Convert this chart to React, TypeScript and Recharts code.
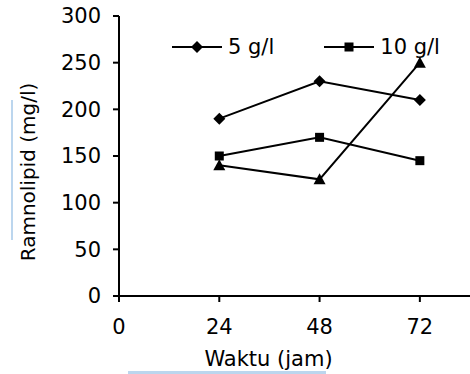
import React from 'react';
import { LineChart, Line, XAxis, YAxis } from 'recharts';

const hours = [24, 48, 72];
const conc5 = [190, 230, 210];
const conc10 = [150, 170, 145];
const conc15 = [140, 125, 250];
const xTicks = [0, 24, 48, 72];
const yTicks = [0, 50, 100, 150, 200, 250, 300];

const data = hours.map((h, i) => ({ jam: h, c5: conc5[i], c10: conc10[i], c15: conc15[i] }));

const FONT = '"DejaVu Sans", Verdana, sans-serif';

const Diamond = (props: any) => {
  const { cx, cy } = props;
  if (cx == null || cy == null) return null;
  return <path d={`M${cx},${cy - 6}L${cx + 6},${cy}L${cx},${cy + 6}L${cx - 6},${cy}Z`} fill="#000" />;
};

const Square = (props: any) => {
  const { cx, cy } = props;
  if (cx == null || cy == null) return null;
  return <rect x={cx - 4.5} y={cy - 4.5} width={9} height={9} fill="#000" />;
};

const Triangle = (props: any) => {
  const { cx, cy } = props;
  if (cx == null || cy == null) return null;
  return <path d={`M${cx},${cy - 6}L${cx + 6},${cy + 5}L${cx - 6},${cy + 5}Z`} fill="#000" />;
};

// legend drawn by hand: the third series has no entry in the original
const LegendBox = () => (
  <div
    style={{
      position: 'absolute', left: 172, top: 34, display: 'flex', alignItems: 'center',
      fontFamily: FONT, fontSize: 21, lineHeight: '26px', color: '#000',
    }}
  >
    <svg width={50} height={14}>
      <line x1={0} y1={7} x2={50} y2={7} stroke="#000" strokeWidth={2} />
      <path d="M25,1L31,7L25,13L19,7Z" fill="#000" />
    </svg>
    <span style={{ marginLeft: 6, marginRight: 50 }}>5 g/l</span>
    <svg width={50} height={14}>
      <line x1={0} y1={7} x2={50} y2={7} stroke="#000" strokeWidth={2} />
      <rect x={20.5} y={2.5} width={9} height={9} fill="#000" />
    </svg>
    <span style={{ marginLeft: 6 }}>10 g/l</span>
  </div>
);

export default function App() {
  return (
    <div style={{ position: 'relative', width: 470, height: 374, background: '#fff' }}>
      <style>{'body{margin:0}'}</style>
      <LineChart width={470} height={374} data={data} margin={{ top: 16, right: 0, left: 0, bottom: 0 }}>
        <XAxis
          dataKey="jam"
          type="number"
          domain={[0, 84]}
          ticks={xTicks}
          axisLine={{ stroke: '#000', strokeWidth: 2 }}
          tickLine={{ stroke: '#000', strokeWidth: 2 }}
          tickSize={6}
          tickMargin={17}
          height={78}
          tick={{ fill: '#000', fontSize: 21, fontFamily: FONT }}
          label={{ value: 'Waktu (jam)', position: 'insideBottom', offset: 8, dx: -26, fill: '#000', fontSize: 21, fontFamily: FONT }}
        />
        <YAxis
          type="number"
          domain={[0, 300]}
          ticks={yTicks}
          width={119}
          axisLine={{ stroke: '#000', strokeWidth: 2 }}
          tickLine={{ stroke: '#000', strokeWidth: 2 }}
          tickSize={6}
          tickMargin={12}
          tick={{ fill: '#000', fontSize: 21, fontFamily: FONT }}
          label={{ value: 'Ramnolipid (mg/l)', angle: -90, position: 'insideLeft', offset: 28, dy: 16, fill: '#000', fontSize: 20, fontFamily: FONT, style: { textAnchor: 'middle' } }}
        />
        <Line dataKey="c5" name="5 g/l" stroke="#000" strokeWidth={2} dot={<Diamond />} isAnimationActive={false} />
        <Line dataKey="c10" name="10 g/l" stroke="#000" strokeWidth={2} dot={<Square />} isAnimationActive={false} />
        <Line dataKey="c15" name="15 g/l" stroke="#000" strokeWidth={2} dot={<Triangle />} isAnimationActive={false} />
      </LineChart>
      <LegendBox />
      <div style={{ position: 'absolute', left: 11, top: 100, width: 2, height: 140, background: '#bcd6ee' }} />
      <div style={{ position: 'absolute', left: 128, top: 371, width: 198, height: 3, background: '#bcd6ee' }} />
    </div>
  );
}
